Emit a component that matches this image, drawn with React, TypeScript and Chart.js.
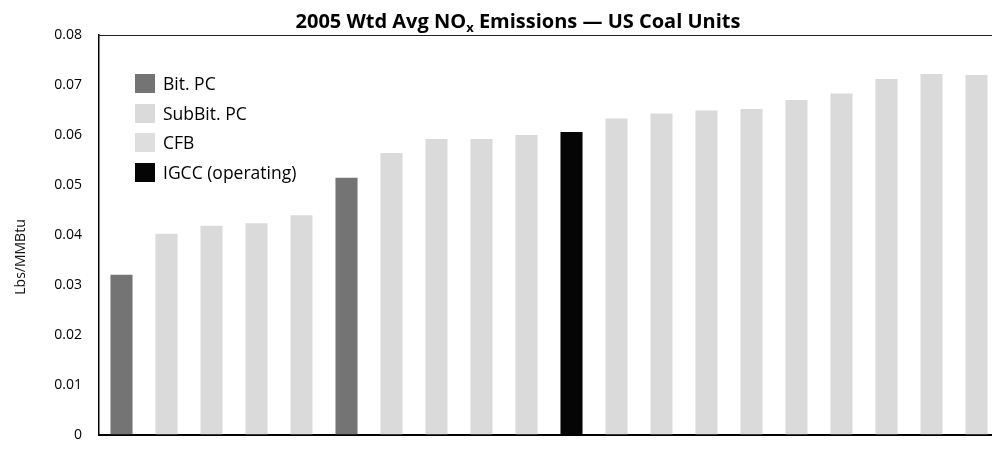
import React, { useEffect, useRef } from "react";
import { Chart, registerables } from "chart.js";

Chart.register(...registerables);

// ---- Data ----
const units: string[] = [
  "Unit 1", "Unit 2", "Unit 3", "Unit 4", "Unit 5",
  "Unit 6", "Unit 7", "Unit 8", "Unit 9", "Unit 10",
  "Unit 11", "Unit 12", "Unit 13", "Unit 14", "Unit 15",
  "Unit 16", "Unit 17", "Unit 18", "Unit 19", "Unit 20",
];

const unitTypes: string[] = [
  "Bit. PC", "SubBit. PC", "SubBit. PC", "SubBit. PC", "SubBit. PC",
  "Bit. PC", "SubBit. PC", "SubBit. PC", "SubBit. PC", "SubBit. PC",
  "IGCC (operating)", "SubBit. PC", "SubBit. PC", "SubBit. PC", "SubBit. PC",
  "SubBit. PC", "SubBit. PC", "SubBit. PC", "SubBit. PC", "SubBit. PC",
];

const noxValues: number[] = [
  0.0320, 0.0402, 0.0418, 0.0423, 0.0439,
  0.0514, 0.0564, 0.0592, 0.0592, 0.0600,
  0.0606, 0.0633, 0.0643, 0.0649, 0.0652,
  0.0670, 0.0683, 0.0712, 0.0722, 0.0720,
];

const yTickValues: number[] = [0, 0.01, 0.02, 0.03, 0.04, 0.05, 0.06, 0.07, 0.08];
const yTickLabels: string[] = ["0", "0.01", "0.02", "0.03", "0.04", "0.05", "0.06", "0.07", "0.08"];

const legendLabels: string[] = ["Bit. PC", "SubBit. PC", "CFB", "IGCC (operating)"];

const typeColors: Record<string, string> = {
  "Bit. PC": "#747474",
  "SubBit. PC": "#dadada",
  "CFB": "#dedede",
  "IGCC (operating)": "#050505",
};

const titleParts = { main: "2005 Wtd Avg NO", sub: "x", rest: " Emissions \u2014 US Coal Units" };
const yAxisTitle = "Lbs/MMBtu";

const FONT = "'Open Sans', 'DejaVu Sans', sans-serif";

const overlayPlugin = {
  id: "overlay",
  afterDraw(chart: any) {
    const { ctx, chartArea: a } = chart;
    ctx.save();
    // top frame line
    ctx.strokeStyle = "#222";
    ctx.lineWidth = 1.2;
    ctx.beginPath();
    ctx.moveTo(a.left, a.top + 0.5);
    ctx.lineTo(a.right, a.top + 0.5);
    ctx.stroke();

    // title with subscript
    ctx.fillStyle = "#000";
    ctx.textBaseline = "alphabetic";
    ctx.textAlign = "left";
    const big = `bold 20px ${FONT}`;
    const small = `bold 13px ${FONT}`;
    ctx.font = big;
    const w1 = ctx.measureText(titleParts.main).width;
    const w3 = ctx.measureText(titleParts.rest).width;
    ctx.font = small;
    const w2 = ctx.measureText(titleParts.sub).width;
    const total = w1 + w2 + w3;
    let x = 518 - total / 2;
    const base = 28;
    ctx.font = big;
    ctx.fillText(titleParts.main, x, base);
    x += w1;
    ctx.font = small;
    ctx.fillText(titleParts.sub, x, base + 4);
    x += w2;
    ctx.font = big;
    ctx.fillText(titleParts.rest, x, base);

    // legend
    ctx.font = `17.5px ${FONT}`;
    ctx.textBaseline = "middle";
    const rowYs = [84, 114, 143, 173];
    legendLabels.forEach((lab, i) => {
      const cy = rowYs[i];
      ctx.fillStyle = typeColors[lab];
      ctx.fillRect(135, cy - 10, 20, 19);
      ctx.fillStyle = "#000";
      ctx.fillText(lab, 163, cy + 1);
    });

    // y-axis title
    ctx.save();
    ctx.translate(21, 257);
    ctx.rotate(-Math.PI / 2);
    ctx.textAlign = "center";
    ctx.textBaseline = "middle";
    ctx.font = `14px ${FONT}`;
    ctx.fillStyle = "#111";
    ctx.fillText(yAxisTitle, 0, 0);
    ctx.restore();

    ctx.restore();
  },
};

export default function App() {
  const canvasRef = useRef<HTMLCanvasElement | null>(null);

  useEffect(() => {
    if (!canvasRef.current) return;
    const chart = new Chart(canvasRef.current, {
      type: "bar",
      data: {
        labels: units,
        datasets: [
          {
            label: "NOx",
            data: noxValues,
            backgroundColor: unitTypes.map((t) => typeColors[t]),
            barPercentage: 0.49,
            categoryPercentage: 1,
          },
        ],
      },
      options: {
        responsive: false,
        animation: false,
        layout: { padding: { top: 35, bottom: 4, right: 1, left: 0 } },
        plugins: {
          legend: { display: false },
          title: { display: false },
          tooltip: { enabled: false },
        },
        scales: {
          x: {
            type: "category",
            offset: true,
            grid: { display: false, drawTicks: false },
            ticks: { display: false },
            border: { display: true, color: "#000", width: 2 },
            afterFit: (s: any) => {
              s.height = 0;
            },
          },
          y: {
            min: 0,
            max: 0.08,
            afterBuildTicks: (s: any) => {
              s.ticks = yTickValues.map((v) => ({ value: v }));
            },
            ticks: {
              padding: 17,
              color: "#000",
              font: { family: FONT, size: 14 },
              callback: (v: any) => {
                const i = yTickValues.findIndex((t) => Math.abs(t - Number(v)) < 1e-9);
                return i >= 0 ? yTickLabels[i] : "";
              },
            },
            grid: { display: false, drawTicks: false },
            border: { display: true, color: "#000", width: 1.5 },
            afterFit: (s: any) => {
              s.width = 99;
            },
          },
        },
      },
      plugins: [overlayPlugin],
    });
    return () => chart.destroy();
  }, []);

  return (
    <div style={{ position: "absolute", left: 0, top: 0, width: 992, height: 460, overflow: "hidden", background: "#fff" }}>
      <canvas ref={canvasRef} width={1000} height={460} style={{ display: "block" }} />
    </div>
  );
}
